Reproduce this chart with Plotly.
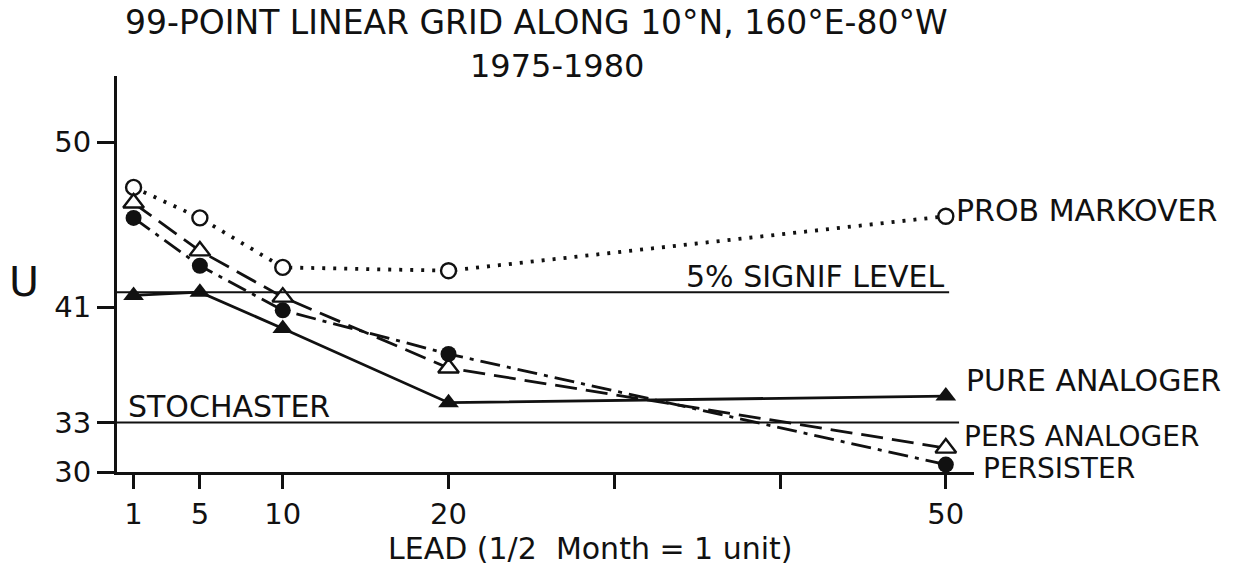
import plotly.graph_objects as go

# ---- data ----
LEAD = [1, 5, 10, 20, 50]
PROB_MARKOVER = [47.25, 45.4, 42.4, 42.2, 45.5]
PERS_ANALOGER = [46.3, 43.4, 40.6, 36.3, 31.45]
PERSISTER = [45.4, 42.5, 39.8, 37.15, 30.45]
PURE_ANALOGER = [40.7, 40.9, 38.7, 34.2, 34.6]
SIGNIF_LEVEL = 40.9
STOCHASTER = 33.0

X_TICK_VALS = [1, 5, 10, 20, 30, 40, 50]
X_TICK_TEXT = ["1", "5", "10", "20", "", "", "50"]
Y_TICK_VALS = [30, 33, 40, 50]
Y_TICK_TEXT = ["30", "33", "41", "50"]

TITLE_1 = "99-POINT LINEAR GRID ALONG 10°N, 160°E-80°W"
TITLE_2 = "1975-1980"
X_TITLE = "LEAD (1/2  Month = 1 unit)"
Y_TITLE = "U"

FONT = "DejaVu Sans"
INK = "#111111"

fig = go.Figure()

# horizontal reference levels
fig.add_shape(type="line", xref="x", yref="y", x0=0, x1=50.2,
              y0=SIGNIF_LEVEL, y1=SIGNIF_LEVEL, line=dict(color=INK, width=2))
fig.add_shape(type="line", xref="x", yref="y", x0=0, x1=50.8,
              y0=STOCHASTER, y1=STOCHASTER, line=dict(color=INK, width=2))

fig.add_trace(go.Scatter(
    x=LEAD, y=PROB_MARKOVER, mode="lines+markers", name="PROB MARKOVER",
    line=dict(color=INK, width=3.8, dash="3px,8px"),
    marker=dict(symbol="circle", size=15, color="white", line=dict(color=INK, width=2.4)),
    cliponaxis=False))
fig.add_trace(go.Scatter(
    x=LEAD, y=PERS_ANALOGER, mode="lines+markers", name="PERS ANALOGER",
    line=dict(color=INK, width=2.8, dash="22px,9px"),
    marker=dict(symbol="triangle-up", size=18, color="white", line=dict(color=INK, width=2.4)),
    cliponaxis=False))
fig.add_trace(go.Scatter(
    x=LEAD, y=PERSISTER, mode="lines+markers", name="PERSISTER",
    line=dict(color=INK, width=2.8, dash="20px,7px,4px,7px"),
    marker=dict(symbol="circle", size=16, color=INK),
    cliponaxis=False))
fig.add_trace(go.Scatter(
    x=LEAD, y=PURE_ANALOGER, mode="lines+markers", name="PURE ANALOGER",
    line=dict(color=INK, width=2.8),
    marker=dict(symbol="triangle-up", size=18, color=INK),
    cliponaxis=False))

lab = dict(family=FONT, size=30, color=INK)
lab_small = dict(family=FONT, size=28, color=INK)
ann = []
# series labels at the right end of each line
ann.append(dict(x=LEAD[-1], y=PROB_MARKOVER[-1], xref="x", yref="y", text="PROB MARKOVER",
                xanchor="left", yanchor="middle", xshift=8, yshift=6, showarrow=False, font=lab))
ann.append(dict(x=LEAD[-1], y=PURE_ANALOGER[-1], xref="x", yref="y", text="PURE ANALOGER",
                xanchor="left", yanchor="middle", xshift=18, yshift=16, showarrow=False, font=lab))
ann.append(dict(x=LEAD[-1], y=PERS_ANALOGER[-1], xref="x", yref="y", text="PERS ANALOGER",
                xanchor="left", yanchor="middle", xshift=16, yshift=12, showarrow=False, font=lab_small))
ann.append(dict(x=LEAD[-1], y=PERSISTER[-1], xref="x", yref="y", text="PERSISTER",
                xanchor="left", yanchor="middle", xshift=35, yshift=-4, showarrow=False, font=lab_small))
ann.append(dict(x=50, y=SIGNIF_LEVEL, xref="x", yref="y", text="5% SIGNIF LEVEL",
                xanchor="right", yanchor="middle", xshift=0, yshift=16, showarrow=False, font=lab))
ann.append(dict(x=0, y=STOCHASTER, xref="x", yref="y", text="STOCHASTER",
                xanchor="left", yanchor="middle", xshift=9, yshift=16, showarrow=False, font=lab))
# titles
ann.append(dict(x=0.489, y=1.134, xref="paper", yref="paper", text=TITLE_1,
                xanchor="center", yanchor="middle", showarrow=False,
                font=dict(family=FONT, size=33, color=INK)))
ann.append(dict(x=0.513, y=1.0265, xref="paper", yref="paper", text=TITLE_2,
                xanchor="center", yanchor="middle", showarrow=False,
                font=dict(family=FONT, size=32, color=INK)))
ann.append(dict(x=0.552, y=-0.194, xref="paper", yref="paper", text=X_TITLE,
                xanchor="center", yanchor="middle", showarrow=False,
                font=dict(family=FONT, size=30, color=INK)))
ann.append(dict(x=-0.108, y=0.48, xref="paper", yref="paper", text=Y_TITLE,
                xanchor="center", yanchor="middle", showarrow=False,
                font=dict(family=FONT, size=41, color=INK)))

fig.update_layout(
    width=1244, height=565,
    margin=dict(l=117, r=270, t=76, b=93),
    paper_bgcolor="white", plot_bgcolor="white",
    showlegend=False,
    annotations=ann,
    font=dict(family=FONT, color=INK),
)
fig.update_xaxes(
    range=[0, 51.7], showgrid=False, zeroline=False,
    showline=True, linecolor=INK, linewidth=3,
    ticks="outside", ticklen=14, tickwidth=2.5, tickcolor=INK,
    tickvals=X_TICK_VALS, ticktext=X_TICK_TEXT,
    tickfont=dict(family=FONT, size=29, color=INK),
)
fig.update_yaxes(
    range=[30, 54], showgrid=False, zeroline=False,
    showline=True, linecolor=INK, linewidth=3,
    ticks="outside", ticklen=17, tickwidth=2.5, tickcolor=INK,
    tickvals=Y_TICK_VALS, ticktext=Y_TICK_TEXT,
    tickfont=dict(family=FONT, size=29, color=INK),
)

# remove the page's default body margin so the figure fills the window exactly
fig.write_html("out.html", config={"displayModeBar": False},
               post_script="document.body.style.margin='0px';")
